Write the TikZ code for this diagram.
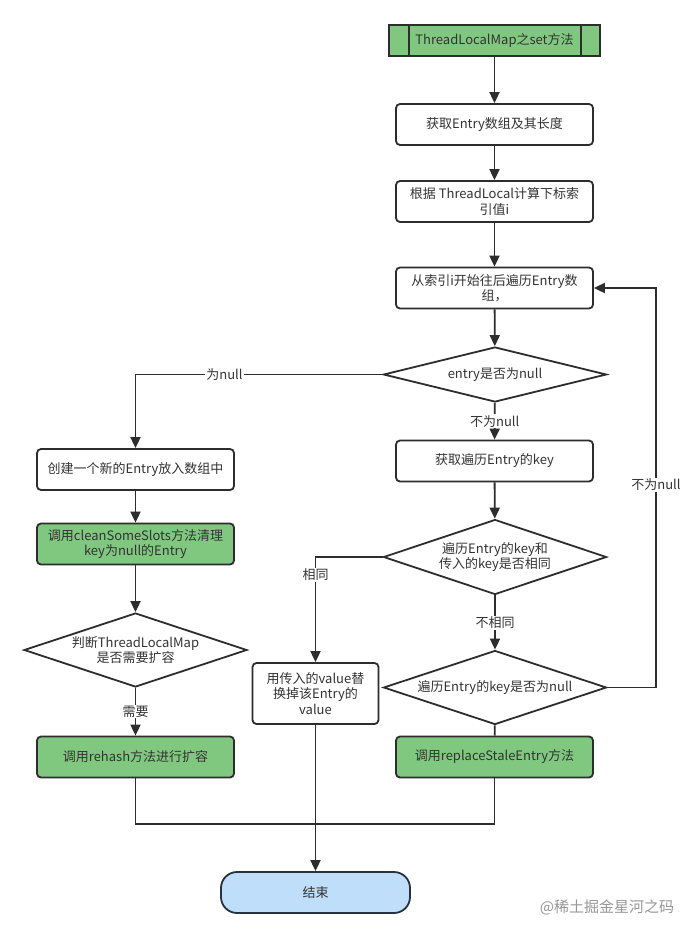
\documentclass[tikz,border=0pt]{standalone}
\usepackage{fontspec}
\setmainfont{Noto Sans CJK SC}
\usetikzlibrary{arrows.meta,shapes.geometric}
\definecolor{gfill}{RGB}{128,200,128}
\definecolor{bfill}{RGB}{190,222,250}
\definecolor{ln}{RGB}{45,45,45}
\definecolor{txt}{RGB}{51,51,51}
\definecolor{endln}{RGB}{40,50,62}
\definecolor{wmc}{RGB}{150,150,150}
\begin{document}
\begin{tikzpicture}[x=1pt,y=-1pt,
  every node/.style={font=\fontsize{13}{15.5}\selectfont, text=txt},
  box/.style={draw=ln, line width=1.8pt, rounded corners=4pt, fill=white,
    minimum width=197pt, minimum height=41pt, align=center, inner sep=2pt},
  gbox/.style={box, fill=gfill},
  dia/.style={draw=ln, line width=1.8pt, shape=diamond, fill=white, align=center,
    inner sep=0pt, minimum width=223pt},
  arr/.style={draw=ln, line width=1.8pt, -{Triangle[length=11pt,width=10pt]}},
  con/.style={draw=ln, line width=1.8pt},
  lbl/.style={fill=white, inner sep=1pt}]
\fill[white] (0,0) rectangle (695,938);
\useasboundingbox (0,0) rectangle (695,938);

% right column
\node[draw=ln, line width=1.8pt, fill=gfill, minimum width=211pt, minimum height=31pt, inner sep=0pt] (start) at (494.5,40.5) {ThreadLocalMap之set方法};
\draw[con] ([xshift=21pt]start.north west) -- ([xshift=21pt]start.south west);
\draw[con] ([xshift=-20pt]start.north east) -- ([xshift=-20pt]start.south east);

\node[box] (b2) at (494.5,124.5) {获取Entry数组及其长度};
\node[box] (b3) at (494.5,201.5) {根据 ThreadLocal计算下标索\\引值i};
\node[box] (b4) at (494.5,288) {从索引i开始往后遍历Entry数\\组，};
\node[dia, minimum height=55pt, aspect=4] (d1) at (495,374.5) {entry是否为null};
\node[box] (b5) at (494.5,461) {获取遍历Entry的key};
\node[dia, minimum height=75pt, aspect=3] (d2) at (495,557) {遍历Entry的key和\\传入的key是否相同};
\node[dia, minimum height=74pt, aspect=3] (d3) at (495,687.5) {遍历Entry的key是否为null};
\node[gbox] (rep) at (494.5,757) {调用replaceStaleEntry方法};

% left column
\node[box] (new) at (135.5,469.5) {创建一个新的Entry放入数组中};
\node[gbox] (clean) at (135.5,544) {调用cleanSomeSlots方法清理\\key为null的Entry};
\node[dia, minimum height=74pt, aspect=3] (d4) at (135.5,650) {判断ThreadLocalMap\\是否需要扩容};
\node[gbox] (rehash) at (135.5,757) {调用rehash方法进行扩容};

% middle
\node[box, minimum width=126pt, minimum height=61pt] (value) at (315.5,693.5) {用传入的value替\\换掉该Entry的\\value};
\node[draw=endln, line width=1.8pt, fill=bfill, rounded corners=16pt, minimum width=189pt, minimum height=41pt] (end) at (315.5,892.5) {结束};

\coordinate (loop) at (656,0);
\coordinate (merge) at (315.5,824);

% connectors
\draw[arr] (start) -- (b2);
\draw[arr] (b2) -- (b3);
\draw[arr] (b3) -- (b4);
\draw[arr] (b4) -- (d1);
\draw[arr] (d1) -- node[lbl]{不为null} (b5);
\draw[arr] (b5) -- (d2);
\draw[arr] (d2) -- node[lbl]{不相同} (d3);
\draw[con] (d3) -- (rep);
\draw[arr] (d3.east) -- (d3.east -| loop) |- node[lbl, pos=0.254]{不为null} (b4.east);
\draw[arr] (d1.west) -| node[lbl, pos=0.32]{为null} (new.north);
\draw[arr] (new) -- (clean);
\draw[arr] (clean) -- (d4);
\draw[arr] (d4) -- node[lbl]{需要} (rehash);
\draw[arr] (d2.west) -| node[lbl, pos=0.585]{相同} (value.north);
\draw[con] (rehash.south) |- (merge) -| (rep.south);
\draw[arr] (value.south) -- (end.north);

\node[text=wmc, font=\fontsize{15}{18}\selectfont] (wm) at (607,907) {@稀土掘金星河之码};
\end{tikzpicture}
\end{document}
